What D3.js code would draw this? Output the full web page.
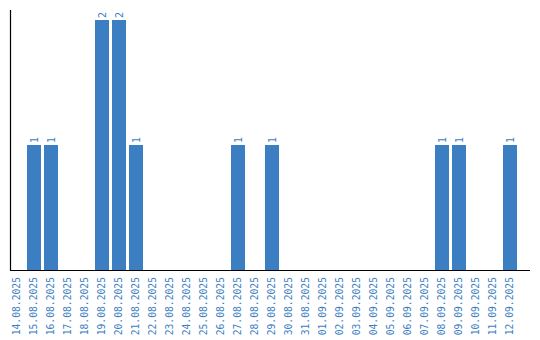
<!DOCTYPE html>
<html><head><meta charset="utf-8">
<script src="https://cdn.jsdelivr.net/npm/d3@7"></script>
<style>body{margin:0;background:#fff}</style>
</head><body>
<svg id="c" width="540" height="340"></svg>
<script>
const dates = ["14.08.2025","15.08.2025","16.08.2025","17.08.2025","18.08.2025","19.08.2025","20.08.2025","21.08.2025","22.08.2025","23.08.2025","24.08.2025","25.08.2025","26.08.2025","27.08.2025","28.08.2025","29.08.2025","30.08.2025","31.08.2025","01.09.2025","02.09.2025","03.09.2025","04.09.2025","05.09.2025","06.09.2025","07.09.2025","08.09.2025","09.09.2025","10.09.2025","11.09.2025","12.09.2025"];
const counts = [0,1,1,0,0,2,2,1,0,0,0,0,0,1,0,1,0,0,0,0,0,0,0,0,0,1,1,0,0,1];

const svg = d3.select("#c");
const color = "#3b7ec2";
const x = d3.scaleBand().domain(dates).range([10, 517]).paddingInner(3/17).paddingOuter(0);
const y = d3.scaleLinear().domain([0, 2]).range([270, 20]);
const data = dates.map((d,i)=>({d, v: counts[i]}));

svg.append("g").selectAll("rect").data(data.filter(e=>e.v>0)).join("rect")
  .attr("x", e=>x(e.d)).attr("width", x.bandwidth())
  .attr("y", e=>y(e.v)).attr("height", e=>y(0)-y(e.v))
  .attr("fill", color);

svg.append("g").selectAll("text").data(data.filter(e=>e.v>0)).join("text")
  .attr("transform", e=>`translate(${x(e.d)+x.bandwidth()/2},${y(e.v)-2}) rotate(-90)`)
  .attr("dy","0.35em")
  .attr("font-family","DejaVu Sans Mono").attr("font-size",10)
  .attr("fill", color).text(e=>e.v);

svg.append("g").selectAll("text").data(dates).join("text")
  .attr("transform", d=>`translate(${x(d)+x.bandwidth()/2},277) rotate(-90)`)
  .attr("dy","0.35em").attr("text-anchor","end")
  .attr("font-family","DejaVu Sans Mono").attr("font-size",9.7)
  .attr("fill", color).text(d=>d);

svg.append("line").attr("x1",10.5).attr("x2",10.5).attr("y1",10).attr("y2",270.5).attr("stroke","#000").attr("stroke-width",1.2);
svg.append("line").attr("x1",10).attr("x2",530).attr("y1",270.5).attr("y2",270.5).attr("stroke","#000").attr("stroke-width",1.2);
</script>
</body></html>
